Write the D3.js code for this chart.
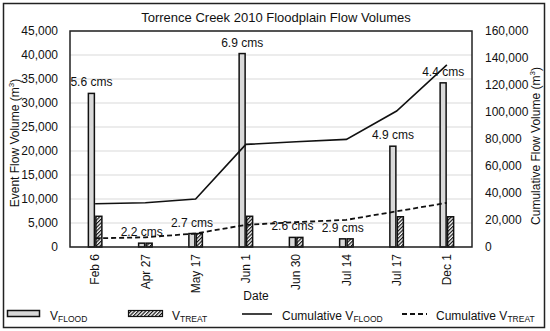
<!DOCTYPE html>
<html lang="en">
<meta charset="UTF-8">
<style>
    body{ margin:0; background:#fff; }
    text{ font-family:"Liberation Sans", Arial, sans-serif; fill:#111; }
    .grid line{ stroke:#d9d9d9; stroke-width:1; }
    .axis text{ font-size:12px; }
    .axis path, .axis line{ display:none; }
</style>
<body>
<div id="chart"></div>
<script src="https://cdn.jsdelivr.net/npm/d3@7"></script>
<script>
    // data
    var dates = ["Feb 6", "Apr 27", "May 17", "Jun 1", "Jun 30", "Jul 14", "Jul 17", "Dec 1"];
    var vFlood = [32000, 800, 2800, 40300, 2000, 1700, 21000, 34200];
    var vTreat = [6400, 800, 2800, 6400, 2000, 1700, 6300, 6300];
    var cumFlood = [32000, 32800, 35600, 76000, 78000, 79700, 100700, 134900];
    var cumTreat = [6400, 7200, 10000, 16400, 18400, 20100, 26400, 32700];
    var peaks = ["5.6 cms", "2.2 cms", "2.7 cms", "6.9 cms", "2.6 cms", "2.9 cms", "4.9 cms", "4.4 cms"];
    var leftTicks = d3.range(0, 45001, 5000);
    var rightTicks = d3.range(0, 160001, 20000);

    var width = 550, height = 331;
    var margin = {top:31, right:78, bottom:84, left:70};

    var svg = d3.select("#chart").append("svg")
        .attr("width", width)
        .attr("height", height);

    var defs = svg.append("defs");
    var hatch = defs.append("pattern")
        .attr("id", "hatch")
        .attr("patternUnits", "userSpaceOnUse")
        .attr("width", 2.6)
        .attr("height", 2.6)
        .attr("patternTransform", "rotate(45)");
    hatch.append("rect").attr("width", 2.6).attr("height", 2.6).attr("fill", "#fff");
    hatch.append("line")
        .attr("x1", 0.6).attr("y1", 0).attr("x2", 0.6).attr("y2", 2.6)
        .attr("stroke", "#111").attr("stroke-width", 1.2);

    // outer frame
    svg.append("rect")
        .attr("x", 3.5).attr("y", 3.5)
        .attr("width", 541).attr("height", 324)
        .attr("fill", "none").attr("stroke", "#222").attr("stroke-width", 1.5);

    var x = d3.scaleBand()
        .domain(dates)
        .range([margin.left, width - margin.right]);

    var sub = d3.scaleBand()
        .domain(["flood", "treat"])
        .range([-7.5, 7.5]);

    var yL = d3.scaleLinear()
        .domain([0, 45000])
        .range([height - margin.bottom, margin.top]);

    var yR = d3.scaleLinear()
        .domain([0, 160000])
        .range([height - margin.bottom, margin.top]);

    // gridlines
    svg.append("g")
        .attr("class", "grid")
        .selectAll("line")
        .data(leftTicks)
        .enter().append("line")
        .attr("x1", margin.left).attr("x2", width - margin.right)
        .attr("y1", function(d){ return yL(d); })
        .attr("y2", function(d){ return yL(d); });

    // axes
    svg.append("g")
        .attr("class", "axis")
        .attr("transform", "translate(" + (margin.left - 9) + ",0)")
        .call(d3.axisLeft(yL).tickValues(leftTicks).tickSize(0).tickFormat(d3.format(",")));

    svg.append("g")
        .attr("class", "axis")
        .attr("transform", "translate(" + (width - margin.right + 10) + ",0)")
        .call(d3.axisRight(yR).tickValues(rightTicks).tickSize(0).tickFormat(d3.format(",")));

    var xAxis = svg.append("g")
        .attr("class", "axis")
        .attr("transform", "translate(0," + (height - margin.bottom + 7) + ")")
        .call(d3.axisBottom(x).tickSize(0));
    xAxis.selectAll("text")
        .attr("transform", "rotate(-90)")
        .attr("text-anchor", "end")
        .attr("x", 0).attr("y", 0)
        .attr("dy", "0.35em");

    // bars
    var groups = svg.append("g").selectAll("g")
        .data(dates)
        .enter().append("g")
        .attr("transform", function(d){ return "translate(" + (x(d) + x.bandwidth()/2) + ",0)"; });

    groups.append("rect")
        .attr("x", sub("flood") + 0.75)
        .attr("width", sub.bandwidth() - 1.5)
        .attr("y", function(d, i){ return yL(vFlood[i]); })
        .attr("height", function(d, i){ return yL(0) - yL(vFlood[i]); })
        .attr("fill", "#d9d9d9")
        .attr("stroke", "#111").attr("stroke-width", 1.5);

    groups.append("rect")
        .attr("x", sub("treat") + 0.75)
        .attr("width", sub.bandwidth() - 1.5)
        .attr("y", function(d, i){ return yL(vTreat[i]); })
        .attr("height", function(d, i){ return yL(0) - yL(vTreat[i]); })
        .attr("fill", "url(#hatch)")
        .attr("stroke", "#111").attr("stroke-width", 1.5);

    // cumulative lines
    var line = d3.line()
        .x(function(d, i){ return x(dates[i]) + x.bandwidth()/2; })
        .y(function(d){ return yR(d); });

    svg.append("path")
        .datum(cumFlood)
        .attr("d", line)
        .attr("fill", "none").attr("stroke", "#111").attr("stroke-width", 1.6);

    svg.append("path")
        .datum(cumTreat)
        .attr("d", line)
        .attr("fill", "none").attr("stroke", "#111").attr("stroke-width", 1.8)
        .attr("stroke-dasharray", "5,3");

    // peak flow labels
    groups.append("text")
        .attr("x", sub("flood") + sub.bandwidth()/2)
        .attr("y", function(d, i){ return yL(vFlood[i]) - 7; })
        .attr("text-anchor", "middle")
        .attr("font-size", "12px")
        .text(function(d, i){ return peaks[i]; });

    // plot frame
    svg.append("rect")
        .attr("x", margin.left).attr("y", margin.top)
        .attr("width", width - margin.left - margin.right)
        .attr("height", height - margin.top - margin.bottom)
        .attr("fill", "none").attr("stroke", "#222").attr("stroke-width", 1.5);

    // title and axis titles
    svg.append("text")
        .attr("x", 276).attr("y", 22)
        .attr("text-anchor", "middle")
        .attr("font-size", "13px")
        .text("Torrence Creek 2010 Floodplain Flow Volumes");

    var lt = svg.append("text")
        .attr("transform", "translate(19,143) rotate(-90)")
        .attr("text-anchor", "middle")
        .attr("font-size", "12px");
    lt.append("tspan").text("Event Flow Volume (m");
    lt.append("tspan").attr("font-size", "8px").attr("dy", -5).text("3");
    lt.append("tspan").attr("dy", 5).text(")");

    var rt = svg.append("text")
        .attr("transform", "translate(540,146) rotate(-90)")
        .attr("text-anchor", "middle")
        .attr("font-size", "12px");
    rt.append("tspan").text("Cumulative Flow Volume (m");
    rt.append("tspan").attr("font-size", "8px").attr("dy", -5).text("3");
    rt.append("tspan").attr("dy", 5).text(")");

    svg.append("text")
        .attr("x", 256).attr("y", 300)
        .attr("text-anchor", "middle")
        .attr("font-size", "12px")
        .text("Date");

    // legend
    var legY = 320;
    svg.append("rect")
        .attr("x", 7.5).attr("y", 310.5).attr("width", 32).attr("height", 6)
        .attr("fill", "#d9d9d9").attr("stroke", "#111").attr("stroke-width", 1.5);
    svg.append("rect")
        .attr("x", 128.5).attr("y", 310.5).attr("width", 34).attr("height", 6)
        .attr("fill", "url(#hatch)").attr("stroke", "#111").attr("stroke-width", 1.2);
    svg.append("line")
        .attr("x1", 242).attr("x2", 272).attr("y1", 314).attr("y2", 314)
        .attr("stroke", "#111").attr("stroke-width", 1.6);
    svg.append("line")
        .attr("x1", 402).attr("x2", 427).attr("y1", 314).attr("y2", 314)
        .attr("stroke", "#111").attr("stroke-width", 1.8)
        .attr("stroke-dasharray", "5,3");

    var legendItems = [
        {x:50, main:"V", sub:"FLOOD"},
        {x:172, main:"V", sub:"TREAT"},
        {x:282, main:"Cumulative V", sub:"FLOOD"},
        {x:436, main:"Cumulative V", sub:"TREAT"}
    ];
    legendItems.forEach(function(d){
        var t = svg.append("text")
            .attr("x", d.x).attr("y", legY)
            .attr("font-size", "12px");
        t.append("tspan").text(d.main);
        t.append("tspan").attr("font-size", "8.5px").attr("dy", 1.5).text(d.sub);
    });
</script>
</body>
</html>
